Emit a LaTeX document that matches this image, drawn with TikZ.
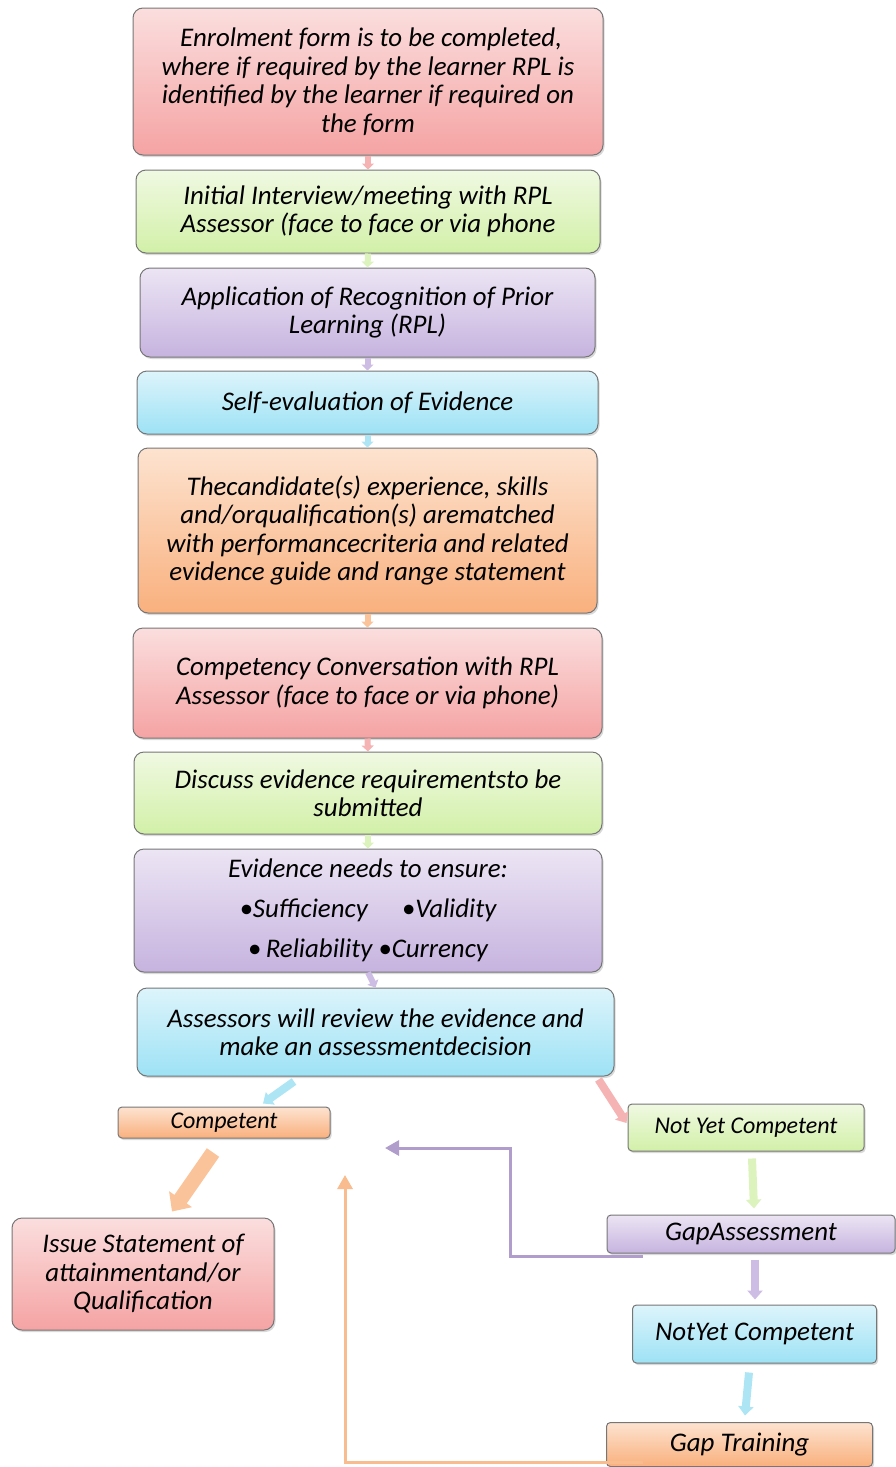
\documentclass[tikz,border=0pt]{standalone}
\usepackage{fontspec}
\setmainfont{Carlito}
\usetikzlibrary{shadows,arrows.meta,calc}
\definecolor{redT}{HTML}{FBDEDE}\definecolor{redB}{HTML}{F5A3A3}
\definecolor{grnT}{HTML}{F0F9E2}\definecolor{grnB}{HTML}{D2F0A8}
\definecolor{purT}{HTML}{ECE5F4}\definecolor{purB}{HTML}{C6B3DF}
\definecolor{bluT}{HTML}{DDF4FB}\definecolor{bluB}{HTML}{9DE2F5}
\definecolor{orgT}{HTML}{FDE3D0}\definecolor{orgB}{HTML}{F9B07D}
\definecolor{edge}{HTML}{767676}
\definecolor{redA}{HTML}{F6B3B3}\definecolor{grnA}{HTML}{DDF3BE}
\definecolor{purA}{HTML}{CDBCE3}\definecolor{bluA}{HTML}{ADE5F5}
\definecolor{orgA}{HTML}{FAC399}
\definecolor{purL}{HTML}{B09DCB}\definecolor{orgL}{HTML}{F9BC8E}
\tikzset{
  box/.style={draw=edge, line width=1pt, rounded corners=10pt, align=center,
    font=\fontsize{26.9}{28.5}\selectfont\itshape, inner sep=2pt, text depth=,
    drop shadow={opacity=0.3, shadow xshift=1.5pt, shadow yshift=-2pt}},
  sbox/.style={box, rounded corners=4pt},
  smallfont/.style={font=\fontsize{24}{26}\selectfont\itshape},
  redbox/.style={top color=redT, bottom color=redB},
  grnbox/.style={top color=grnT, bottom color=grnB},
  purbox/.style={top color=purT, bottom color=purB},
  blubox/.style={top color=bluT, bottom color=bluB},
  orgbox/.style={top color=orgT, bottom color=orgB},
  stub/.style={line width=6pt, -{Triangle[width=12pt,length=6pt]}},
  fat/.style={line width=8pt, -{Triangle[width=15pt,length=9pt]}},
  fatter/.style={line width=15pt, -{Triangle[width=27pt,length=15pt]}},
  back/.style={line width=3pt, -{Triangle[width=15pt,length=14pt]}}
}
\begin{document}
\begin{tikzpicture}[x=1pt,y=-1pt]
\useasboundingbox (0,0) rectangle (896,1467);
% main column
\node[box,redbox,minimum width=470pt,minimum height=147pt] (b1) at (368,81.5)
  {\raisebox{-2pt}{\parbox{460pt}{\centering\ Enrolment form is to be completed,\\where if required by the learner RPL is\\identified by the learner if required on\\the form}}};
\node[box,grnbox,minimum width=464pt,minimum height=83pt] (b2) at (368,211.5)
  {Initial Interview/meeting with RPL\\Assessor (face to face or via phone};
\node[box,purbox,minimum width=455pt,minimum height=89pt] (b3) at (367.5,312.5)
  {Application of Recognition of Prior\\Learning (RPL)};
\node[box,blubox,minimum width=461pt,minimum height=63pt] (b4) at (367.5,402.5)
  {Self-evaluation of Evidence};
\node[box,orgbox,minimum width=459pt,minimum height=165pt] (b5) at (367.5,530.5)
  {Thecandidate(s) experience, skills\\and/orqualification(s) arematched\\with performancecriteria and related\\evidence guide and range statement};
\node[box,redbox,minimum width=469pt,minimum height=110pt] (b6) at (367.5,683)
  {Competency Conversation with RPL\\Assessor (face to face or via phone)};
\node[box,grnbox,minimum width=468pt,minimum height=82pt] (b7) at (368,793)
  {Discuss evidence requirementsto be\\submitted};
\node[box,purbox,minimum width=468pt,minimum height=123pt] (b8) at (368,910.5)
  {Evidence needs to ensure:\\[11.5pt]•Sufficiency\hspace{34pt}•Validity\\[11.5pt]•\,Reliability •Currency};
\node[box,blubox,minimum width=477pt,minimum height=88pt] (b9) at (375.5,1032)
  {Assessors will review the evidence and\\make an assessmentdecision};
% stubs between main boxes
\draw[stub,redA] (b1.south) -- (b2.north);
\draw[stub,grnA] (b2.south) -- (b3.north);
\draw[stub,purA] (b3.south) -- (b4.north);
\draw[stub,bluA] (b4.south) -- (b5.north);
\draw[stub,orgA] (b5.south) -- (b6.north);
\draw[stub,redA] (b6.south) -- (b7.north);
\draw[stub,grnA] (b7.south) -- (b8.north);
\draw[stub,purA] (b8.south) -- (b9.north);
% outcome boxes
\node[sbox,orgbox,smallfont,minimum width=212pt,minimum height=31pt] (b10) at (224,1122.5) {Competent};
\node[sbox,grnbox,smallfont,minimum width=236pt,minimum height=47pt] (b11) at (746,1127.5) {Not Yet Competent};
\node[box,redbox,minimum width=262pt,minimum height=112pt] (b12) at (143,1274)
  {Issue Statement of\\attainmentand/or\\Qualification};
\node[sbox,purbox,minimum width=288pt,minimum height=38pt] (b13) at (751,1234) {GapAssessment};
\node[sbox,blubox,minimum width=244pt,minimum height=58pt] (b14) at (754.5,1334) {NotYet Competent};
\node[sbox,orgbox,minimum width=266pt,minimum height=44pt] (b15) at (739.5,1444.5) {Gap Training};
% outcome arrows
\draw[fat,bluA] ([xshift=-81.5pt,yshift=-5pt]b9.south) -- ([xshift=39pt,yshift=3pt]b10.north);
\draw[fat,redA] ([xshift=-16pt,yshift=-3pt]b9.south east) -- ([xshift=-1pt,yshift=4.5pt]b11.west);
\draw[fatter,orgA] ([xshift=-11pt,yshift=-14pt]b10.south) -- ([xshift=29pt,yshift=6pt]b12.north);
\draw[fat,grnA] ([xshift=6pt,yshift=-7pt]b11.south) -- ([xshift=3pt,yshift=6pt]b13.north);
\draw[fat,purA] ([xshift=4pt,yshift=-6pt]b13.south) -- ([xshift=0.5pt,yshift=5pt]b14.north);
\draw[fat,bluA] ([xshift=-5.5pt,yshift=-9pt]b14.south) -- ([xshift=5.5pt,yshift=6.5pt]b15.north);
% feedback lines
\coordinate (pe) at (385,1148);
\coordinate (oe) at (345,1175);
\draw[back,purL] ([xshift=36pt,yshift=-3pt]b13.south west) -| (510,1148) -- (pe);
\draw[back,orgL] ([xshift=37pt,yshift=-17.5pt]b15.west) -| (oe);
\end{tikzpicture}
\end{document}
